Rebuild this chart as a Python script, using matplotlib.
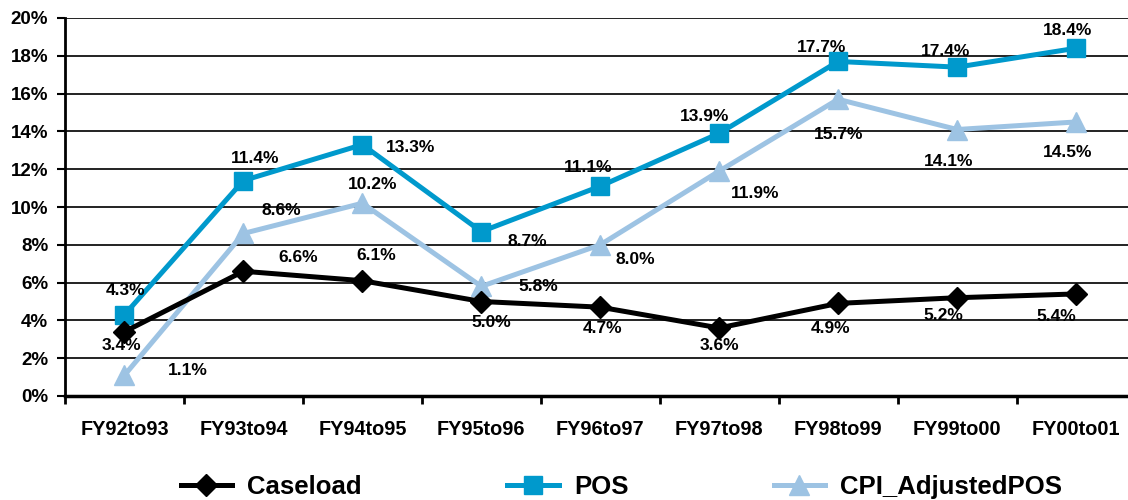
import numpy as np
import matplotlib.pyplot as plt
from matplotlib.ticker import FixedLocator, PercentFormatter

plt.rcParams['font.family'] = ['Liberation Sans', 'DejaVu Sans']
plt.rcParams['font.weight'] = 'bold'

periods = ["FY92to93", "FY93to94", "FY94to95", "FY95to96", "FY96to97",
           "FY97to98", "FY98to99", "FY99to00", "FY00to01"]
caseload = [3.4, 6.6, 6.1, 5.0, 4.7, 3.6, 4.9, 5.2, 5.4]
pos = [4.3, 11.4, 13.3, 8.7, 11.1, 13.9, 17.7, 17.4, 18.4]
cpi_pos = [1.1, 8.6, 10.2, 5.8, 8.0, 11.9, 15.7, 14.1, 14.5]

# label offsets in pixels (dx, dy) relative to each point
case_off = [(-3, -14), (55, 14), (14, 25), (10, -21), (2, -21), (0, -18), (-8, -25), (-14, -18), (-20, -23)]
pos_off = [(1, 24), (12, 22), (48, -3), (46, -10), (-12, 19), (-15, 17), (-17, 14), (-12, 16), (-8, 18)]
cpi_off = [(63, 5), (38, 23), (10, 19), (57, 0), (35, -15), (36, -22), (0, -35), (-8, -32), (-8, -31)]

c_pos = "#0099cc"
c_cpi = "#9dc3e3"

fig = plt.figure(figsize=(11.28, 5.0), dpi=100)
ax = fig.add_axes([65 / 1128, 104 / 500, 1070.5 / 1128, 378 / 500])

x = np.arange(len(periods))
l1, = ax.plot(x, caseload, color="black", lw=3.6, marker="D", ms=11, label="Caseload", zorder=4)
l2, = ax.plot(x, pos, color=c_pos, lw=3.6, marker="s", ms=13, label="POS", zorder=3)
l3, = ax.plot(x, cpi_pos, color=c_cpi, lw=3.6, marker="^", ms=14, label="CPI_AdjustedPOS", zorder=3)

for vals, offs in [(caseload, case_off), (pos, pos_off), (cpi_pos, cpi_off)]:
    for xi, v, (dx, dy) in zip(x, vals, offs):
        ax.annotate(f"{v:.1f}%", (xi, v), xytext=(dx, dy), textcoords="offset pixels",
                    ha="center", va="center", fontsize=12.5, fontweight="bold", zorder=6)

ax.set_xlim(-0.5, 8.5)
ax.set_ylim(0, 20)
ax.set_yticks(np.arange(0, 21, 2))
ax.yaxis.set_major_formatter(PercentFormatter(decimals=0))
ax.grid(axis="y", color="#222222", lw=1.4)
ax.set_axisbelow(True)

ax.xaxis.set_major_locator(FixedLocator(np.arange(-0.5, 9.0, 1.0)))
ax.xaxis.set_minor_locator(FixedLocator(x))
ax.set_xticklabels([], minor=False)
ax.set_xticklabels(periods, minor=True)
ax.tick_params(axis="x", which="major", length=6, width=2, direction="out")
ax.tick_params(axis="x", which="minor", length=0, pad=17, labelsize=14.3)
ax.tick_params(axis="y", length=6, width=1.5, direction="out", labelsize=13.5, pad=6)
for lab in ax.get_xticklabels(minor=True) + ax.get_yticklabels():
    lab.set_fontweight("bold")

for s in ["top", "right"]:
    ax.spines[s].set_visible(False)
ax.spines["left"].set_linewidth(2)
ax.spines["bottom"].set_linewidth(2.5)

fig.legend(handles=[l1, l2, l3], loc="lower center", bbox_to_anchor=(0.551, -0.045), ncol=3,
           frameon=False, prop={"size": 18.5, "weight": "bold"}, handlelength=2.0,
           columnspacing=5.65, handletextpad=0.6)

fig.savefig("out.png", dpi=100)
